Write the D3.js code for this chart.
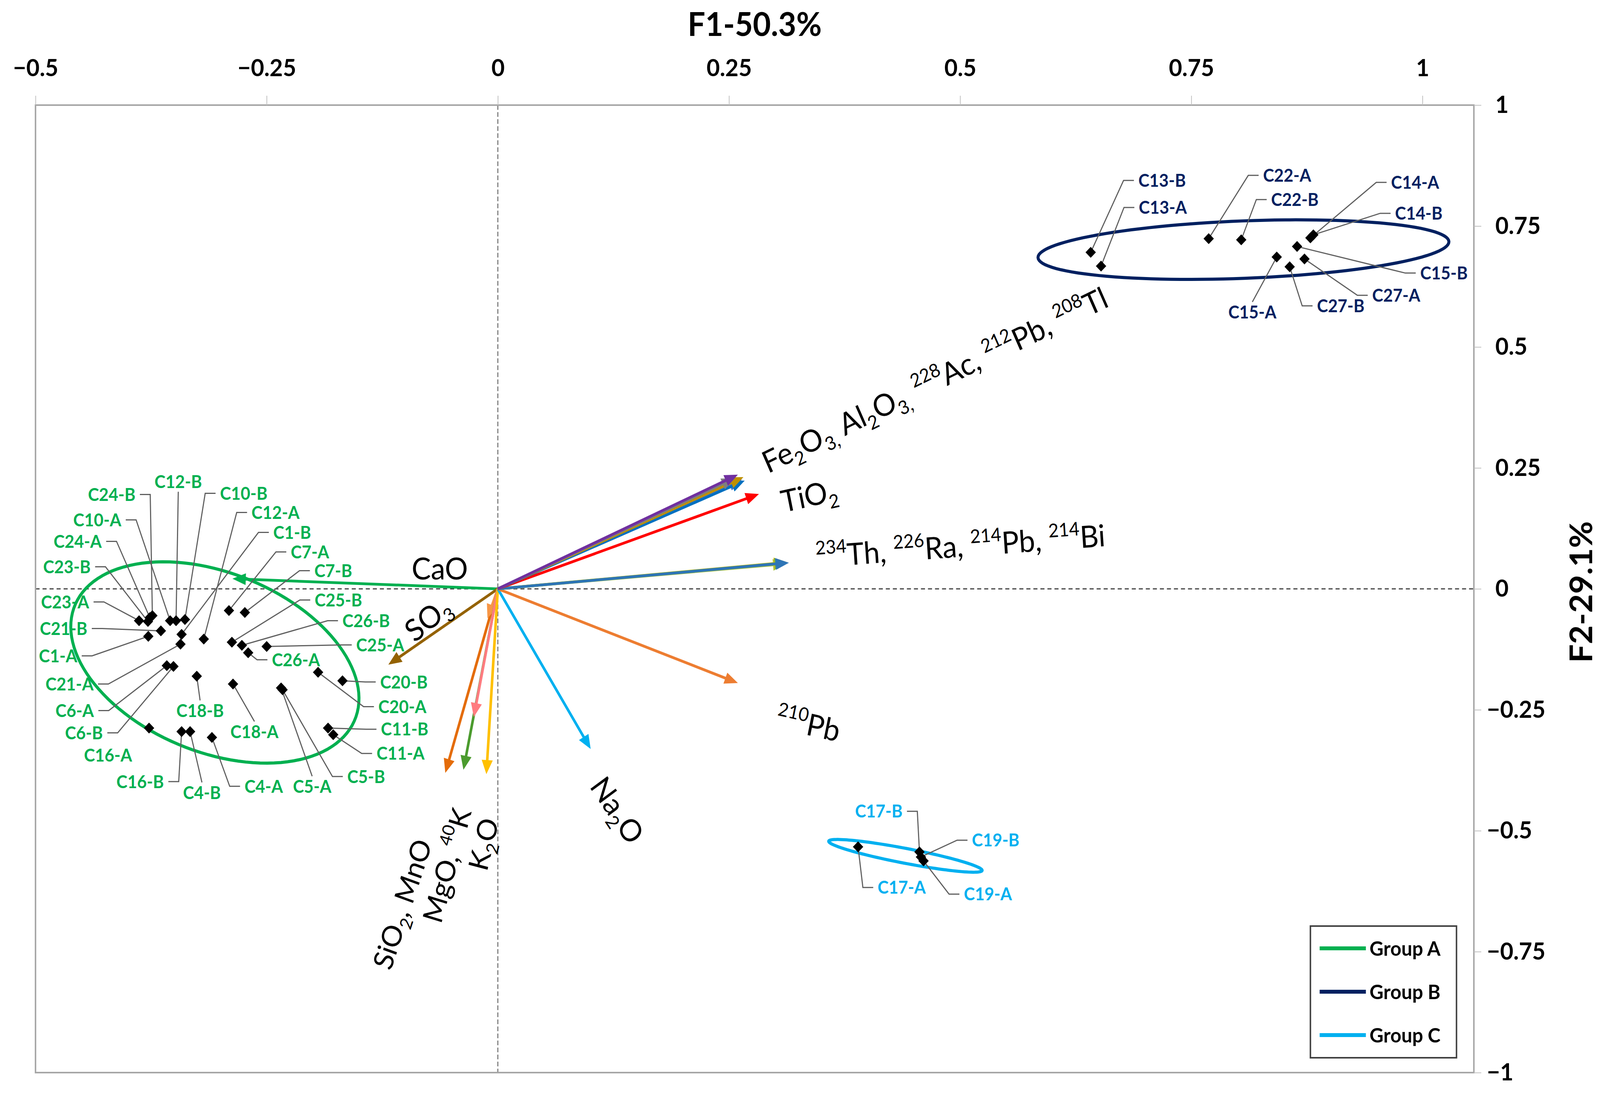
<!DOCTYPE html>
<html>
<head>
<meta charset="utf-8">
<script src="https://cdn.jsdelivr.net/npm/d3@7"></script>
<style>
  html, body { margin: 0; padding: 0; background: #fff; overflow: hidden; }
  #chart { display: block; width: 100vw; height: 100vh; }
  text { font-family: Lato, 'Open Sans', 'DejaVu Sans', sans-serif; }
</style>
</head>
<body>
<svg id="chart" viewBox="0 0 4326 2810" preserveAspectRatio="none"></svg>
<script>
// ---- data ----
const xTicks = [-0.5, -0.25, 0, 0.25, 0.5, 0.75, 1];
const yTicks = [1, 0.75, 0.5, 0.25, 0, -0.25, -0.5, -0.75, -1];

const groupNames = ['Group A', 'Group B', 'Group C'];

// confidence ellipses: centre and two conjugate semi-axes (F1, F2 units)
const ellipseCx = [-0.306, 0.8064, 0.4408];
const ellipseCy = [-0.1522, 0.7013, -0.5519];
const ellipseU = [[0.1526, -0.1121], [0.2222, 0.01647], [0.083, -0.03028]];
const ellipseV = [[-0.0316, -0.1753], [0.00108, -0.0593], [-0.001345, -0.0151]];

const sampleNames = [
  'C24-B', 'C12-B', 'C10-B', 'C10-A', 'C24-A', 'C12-A', 'C1-B', 'C7-A', 'C7-B', 'C23-B', 'C23-A',
  'C21-B', 'C1-A', 'C21-A', 'C6-A', 'C6-B', 'C16-A', 'C16-B', 'C4-B', 'C4-A', 'C5-A', 'C5-B',
  'C18-A', 'C18-B', 'C25-B', 'C26-B', 'C25-A', 'C26-A', 'C20-B', 'C20-A', 'C11-B', 'C11-A',
  'C13-B', 'C13-A', 'C22-A', 'C22-B', 'C14-A', 'C14-B', 'C15-B', 'C27-A', 'C27-B', 'C15-A',
  'C17-B', 'C19-B', 'C17-A', 'C19-A'
];
const sampleGroup = [
  0, 0, 0, 0, 0, 0, 0, 0, 0, 0, 0, 0, 0, 0, 0, 0, 0, 0, 0, 0, 0, 0, 0, 0, 0, 0, 0, 0, 0, 0, 0, 0,
  1, 1, 1, 1, 1, 1, 1, 1, 1, 1,
  2, 2, 2, 2
];
const sampleF1 = [
  -0.3736, -0.3480, -0.3384, -0.3544, -0.3764, -0.3180, -0.3420, -0.2908, -0.2736, -0.3784, -0.3880,
  -0.3644, -0.3780, -0.3432, -0.3580, -0.3508, -0.3772, -0.3420, -0.3328, -0.3092, -0.2344, -0.2328,
  -0.2864, -0.3256, -0.2876, -0.2768, -0.2500, -0.2700, -0.1680, -0.1944, -0.1836, -0.1780,
  0.6412, 0.6524, 0.7688, 0.8040, 0.8788, 0.8820, 0.8644, 0.8724, 0.8564, 0.8424,
  0.4560, 0.4576, 0.3896, 0.4604
];
const sampleF2 = [
  -0.0553, -0.0658, -0.0634, -0.0658, -0.0593, -0.1038, -0.0941, -0.0448, -0.0488, -0.0674, -0.0658,
  -0.0868, -0.0981, -0.1143, -0.1587, -0.1603, -0.2878, -0.2951, -0.2951, -0.3072, -0.2047, -0.2087,
  -0.1966, -0.1805, -0.1102, -0.1167, -0.1191, -0.1320, -0.1901, -0.1724, -0.2878, -0.3015,
  0.6956, 0.6673, 0.7239, 0.7215, 0.7255, 0.7319, 0.7077, 0.6819, 0.6658, 0.6859,
  -0.5438, -0.5543, -0.5333, -0.5624
];

const varNames = [
  'CaO', 'SO3', 'SiO2', 'MnO', 'MgO', '40K', 'K2O', 'Na2O', '210Pb',
  '226Ra', '214Pb', '214Bi', '234Th', 'TiO2', '208Tl', '212Pb', '228Ac', 'Al2O3', 'Fe2O3'
];
const varF1 = [
  -0.287, -0.1184, -0.0568, -0.0112, -0.0372, -0.026, -0.0124, 0.1004, 0.2596,
  0.312, 0.313, 0.3135, 0.3148, 0.2824, 0.264, 0.267, 0.2656, 0.2564, 0.2596
];
const varF2 = [
  0.021, -0.1567, -0.3805, -0.061, -0.374, -0.265, -0.383, -0.331, -0.1947,
  0.052, 0.055, 0.0545, 0.054, 0.196, 0.226, 0.2237, 0.231, 0.2286, 0.236
];

// ---- styles / layout ----
const groupColors = ['#00B050', '#002060', '#00B0F0'];
const varColors = [
  '#00B050', '#946200', '#E46C0A', '#F79646', '#4B9B2E', '#FF7C80', '#FFC000', '#00B0F0', '#ED7D31',
  '#A9C23F', '#FFC000', '#70AD47', '#2E75B6', '#FF0000', '#4472C4', '#0070C0', '#BF9000', '#7F7F7F', '#7030A0'
];

// label offsets from the point (px) and the side the leader leaves from
const labelOffset = {
  'C24-B': [-110, -310, 'R'], 'C12-B': [6, -356, 'B'], 'C10-B': [159, -323, 'L'], 'C10-A': [-197, -258, 'R'],
  'C24-A': [-195, -195, 'R'], 'C12-A': [194, -324, 'L'], 'C1-B': [299, -261, 'L'], 'C7-A': [219, -150, 'L'],
  'C7-B': [239, -107, 'L'], 'C23-B': [-219, -140, 'R'], 'C23-A': [-200, -48, 'R'], 'C21-B': [-263, -6, 'R'],
  'C1-A': [-244, 50, 'R'], 'C21-A': [-300, 102, 'R'], 'C6-A': [-249, 115, 'R'], 'C6-B': [-242, 170, 'R'],
  'C16-A': [-111, 70, 'N'], 'C16-B': [-112, 128, 'R'], 'C4-B': [32, 156, 'T'], 'C4-A': [140, 125, 'L'],
  'C5-A': [84, 252, 'T'], 'C5-B': [226, 222, 'L'], 'C18-A': [58, 122, 'T'], 'C18-B': [9, 88, 'T'],
  'C25-B': [288, -108, 'L'], 'C26-B': [336, -63, 'L'], 'C25-A': [307, -4, 'L'], 'C26-A': [129, 18, 'L'],
  'C20-B': [166, 3, 'L'], 'C20-A': [228, 88, 'L'], 'C11-B': [207, 3, 'L'], 'C11-A': [182, 48, 'L'],
  'C13-B': [193, -184, 'L'], 'C13-A': [167, -150, 'L'], 'C22-A': [212, -162, 'L'], 'C22-B': [145, -103, 'L'],
  'C14-A': [283, -142, 'L'], 'C14-B': [285, -55, 'L'], 'C15-B': [397, 68, 'L'], 'C27-A': [248, 93, 'L'],
  'C27-B': [138, 100, 'L'], 'C15-A': [-66, 141, 'T'],
  'C17-B': [-110, -104, 'R'], 'C19-B': [202, -43, 'L'], 'C17-A': [118, 104, 'L'], 'C19-A': [174, 85, 'L']
};

// loading labels: text (_{} sub, ^{} super), centre in F1/F2 units, rotation, font size
const varLabels = [
  { text: 'CaO', at: [-0.0628, 0.0408], rot: 0, size: 78 },
  { text: 'SO_{3}', at: [-0.0756, -0.0626], rot: -38, size: 78 },
  { text: 'Fe_{2}O_{3,} Al_{2}O_{3,} ^{228}Ac, ^{212}Pb, ^{208}Tl', at: [0.4728, 0.4308], rot: -24.9, size: 78 },
  { text: 'TiO_{2}', at: [0.3368, 0.1917], rot: -12, size: 78 },
  { text: '^{234}Th, ^{226}Ra, ^{214}Pb, ^{214}Bi', at: [0.5004, 0.0876], rot: -4, size: 78 },
  { text: '^{210}Pb', at: [0.3356, -0.2806], rot: 12, size: 78 },
  { text: 'Na_{2}O', at: [0.1288, -0.4582], rot: 55, size: 78 },
  { text: 'SiO_{2}, MnO', at: [-0.1028, -0.652], rot: -71, size: 74 },
  { text: 'MgO, ^{40}K', at: [-0.0545, -0.5720], rot: -74, size: 74 },
  { text: 'K_{2}O', at: [-0.0150, -0.5280], rot: -76, size: 74 }
];

const W = 4326, H = 2810;
const plot = { left: 96, right: 3985, top: 269, bottom: 2745 };

const x = d3.scaleLinear().domain([-0.5, 1.0556]).range([plot.left, plot.right]);
const y = d3.scaleLinear().domain([-1, 1]).range([plot.bottom, plot.top]);

const svg = d3.select('#chart');
svg.append('rect').attr('width', W).attr('height', H).attr('fill', '#fff');

// zero lines
svg.append('line')
  .attr('x1', plot.left).attr('x2', plot.right)
  .attr('y1', y(0)).attr('y2', y(0))
  .attr('stroke', '#404040').attr('stroke-width', 3).attr('stroke-dasharray', '11,8');
svg.append('line')
  .attr('x1', x(0)).attr('x2', x(0))
  .attr('y1', plot.top).attr('y2', plot.bottom)
  .attr('stroke', '#7f7f7f').attr('stroke-width', 3).attr('stroke-dasharray', '12,6');

// frame
svg.append('rect')
  .attr('x', plot.left).attr('y', plot.top)
  .attr('width', plot.right - plot.left).attr('height', plot.bottom - plot.top)
  .attr('fill', 'none').attr('stroke', '#a6a6a6').attr('stroke-width', 4);

// axes
const fmt = d => (d < 0 ? '\u2212' : '') + Math.abs(d);

const xAxis = svg.append('g')
  .attr('transform', `translate(0,${plot.top})`)
  .call(d3.axisTop(x).tickValues(xTicks).tickSize(24).tickPadding(50).tickFormat(fmt));
xAxis.select('.domain').remove();
xAxis.selectAll('line').attr('stroke', '#bfbfbf').attr('stroke-width', 2);
xAxis.selectAll('text').attr('fill', '#000').style('font-size', '62px').style('font-weight', 700);

const yAxis = svg.append('g')
  .attr('transform', `translate(${plot.right},0)`)
  .call(d3.axisRight(y).tickValues(yTicks).tickSize(20).tickPadding(38).tickFormat(fmt));
yAxis.select('.domain').remove();
yAxis.selectAll('line').attr('stroke', '#bfbfbf').attr('stroke-width', 2);
yAxis.selectAll('text')
  .attr('fill', '#000')
  .attr('x', d => d < 0 ? 35 : 58)
  .style('font-size', '62px').style('font-weight', 700);

svg.append('text')
  .attr('x', (plot.left + plot.right) / 2).attr('y', 92)
  .attr('text-anchor', 'middle')
  .style('font-size', '84px').style('font-weight', 700)
  .text('F1-50.3%');

svg.append('text')
  .attr('transform', `translate(4275,${y(0) + 8}) rotate(-90)`)
  .attr('text-anchor', 'middle').attr('dy', '0.35em')
  .style('font-size', '84px').style('font-weight', 700)
  .text('F2-29.1%');

// Group ellipses
const ellipsePath = i => {
  const pts = d3.range(0, 121).map(k => {
    const t = k / 120 * 2 * Math.PI;
    return [
      x(ellipseCx[i] + ellipseU[i][0] * Math.cos(t) + ellipseV[i][0] * Math.sin(t)),
      y(ellipseCy[i] + ellipseU[i][1] * Math.cos(t) + ellipseV[i][1] * Math.sin(t))
    ];
  });
  return d3.line()(pts) + 'Z';
};

svg.append('g')
  .selectAll('path')
  .data(d3.range(groupNames.length))
  .join('path')
  .attr('d', ellipsePath)
  .attr('fill', 'none')
  .attr('stroke', i => groupColors[i])
  .attr('stroke-width', 8);

// Loading arrows
const arrows = svg.append('g');
const headL = 36, headW = 15;
varNames.forEach((name, i) => {
  const x0 = x(0), y0 = y(0), x2 = x(varF1[i]), y2 = y(varF2[i]);
  const a = Math.atan2(y2 - y0, x2 - x0);
  const bx = x2 - headL * Math.cos(a), by = y2 - headL * Math.sin(a);
  arrows.append('line')
    .attr('x1', x0).attr('y1', y0)
    .attr('x2', bx + 4 * Math.cos(a)).attr('y2', by + 4 * Math.sin(a))
    .attr('stroke', varColors[i]).attr('stroke-width', 7);
  arrows.append('path')
    .attr('d', d3.line()([
      [x2, y2],
      [bx + headW * Math.sin(a), by - headW * Math.cos(a)],
      [bx - headW * Math.sin(a), by + headW * Math.cos(a)]
    ]) + 'Z')
    .attr('fill', varColors[i]);
});

// rich text with sub / superscripts
function richText(sel, str, size) {
  const parts = str.split(/(_\{[^}]*\}|\^\{[^}]*\})/).filter(s => s.length);
  let shift = 0;
  parts.forEach(p => {
    let t = p, fs = size, off = 0;
    if (p.startsWith('_{')) { t = p.slice(2, -1); fs = size * 0.62; off = size * 0.22; }
    else if (p.startsWith('^{')) { t = p.slice(2, -1); fs = size * 0.62; off = -size * 0.42; }
    sel.append('tspan')
      .attr('dy', off - shift)
      .style('font-size', fs + 'px')
      .text(t);
    shift = off;
  });
}

const varLabelG = svg.append('g');
varLabels.forEach(l => {
  const t = varLabelG.append('text')
    .attr('transform', `translate(${x(l.at[0])},${y(l.at[1])}) rotate(${l.rot})`)
    .attr('y', l.size * 0.34)
    .attr('text-anchor', 'middle')
    .attr('fill', '#000')
    .style('font-size', l.size + 'px');
  richText(t, l.text, l.size);
});

// Sample leaders, points, labels
const leaderG = svg.append('g');
const pointG = svg.append('g');
const labelG = svg.append('g');

const samples = sampleNames.map((name, i) => ({
  name,
  g: sampleGroup[i],
  px: x(sampleF1[i]),
  py: y(sampleF2[i]),
  off: labelOffset[name]
}));

pointG.selectAll('path')
  .data(samples)
  .join('path')
  .attr('d', d3.symbol(d3.symbolSquare, 392))
  .attr('transform', d => `translate(${d.px},${d.py}) rotate(45)`)
  .attr('fill', '#000');

const labels = labelG.selectAll('text')
  .data(samples)
  .join('text')
  .attr('x', d => d.px + d.off[0])
  .attr('y', d => d.py + d.off[1])
  .attr('dy', '0.36em')
  .attr('text-anchor', 'middle')
  .attr('fill', d => groupColors[d.g])
  .style('font-size', '45px')
  .style('font-weight', 700)
  .text(d => d.name);

labels.each(function(d) {
  const w = this.getComputedTextLength();
  const lx = d.px + d.off[0], ly = d.py + d.off[1];
  let pts = null;
  if (d.off[2] === 'R') {
    const sx = lx + w / 2 + 12;
    pts = [[sx, ly], [sx + 28, ly], [d.px, d.py]];
  } else if (d.off[2] === 'L') {
    const sx = lx - w / 2 - 12;
    pts = [[sx, ly], [sx - 28, ly], [d.px, d.py]];
  } else if (d.off[2] === 'B') {
    pts = [[lx, ly + 26], [d.px, d.py]];
  } else if (d.off[2] === 'T') {
    pts = [[lx, ly - 26], [d.px, d.py]];
  }
  if (pts) {
    leaderG.append('path')
      .attr('d', d3.line()(pts))
      .attr('fill', 'none')
      .attr('stroke', '#5f5f5f')
      .attr('stroke-width', 3);
  }
});

// Legend
const legend = svg.append('g').attr('transform', 'translate(3543,2370)');
legend.append('rect')
  .attr('width', 395).attr('height', 337)
  .attr('fill', '#fff').attr('stroke', '#404040').attr('stroke-width', 4);
groupNames.forEach((g, i) => {
  const ly = 57 + i * 111;
  legend.append('line')
    .attr('x1', 25).attr('x2', 150).attr('y1', ly).attr('y2', ly)
    .attr('stroke', groupColors[i]).attr('stroke-width', 10);
  legend.append('text')
    .attr('x', 160).attr('y', ly).attr('dy', '0.36em')
    .style('font-size', '52px').style('font-weight', 700)
    .text(g);
});
</script>
</body>
</html>
